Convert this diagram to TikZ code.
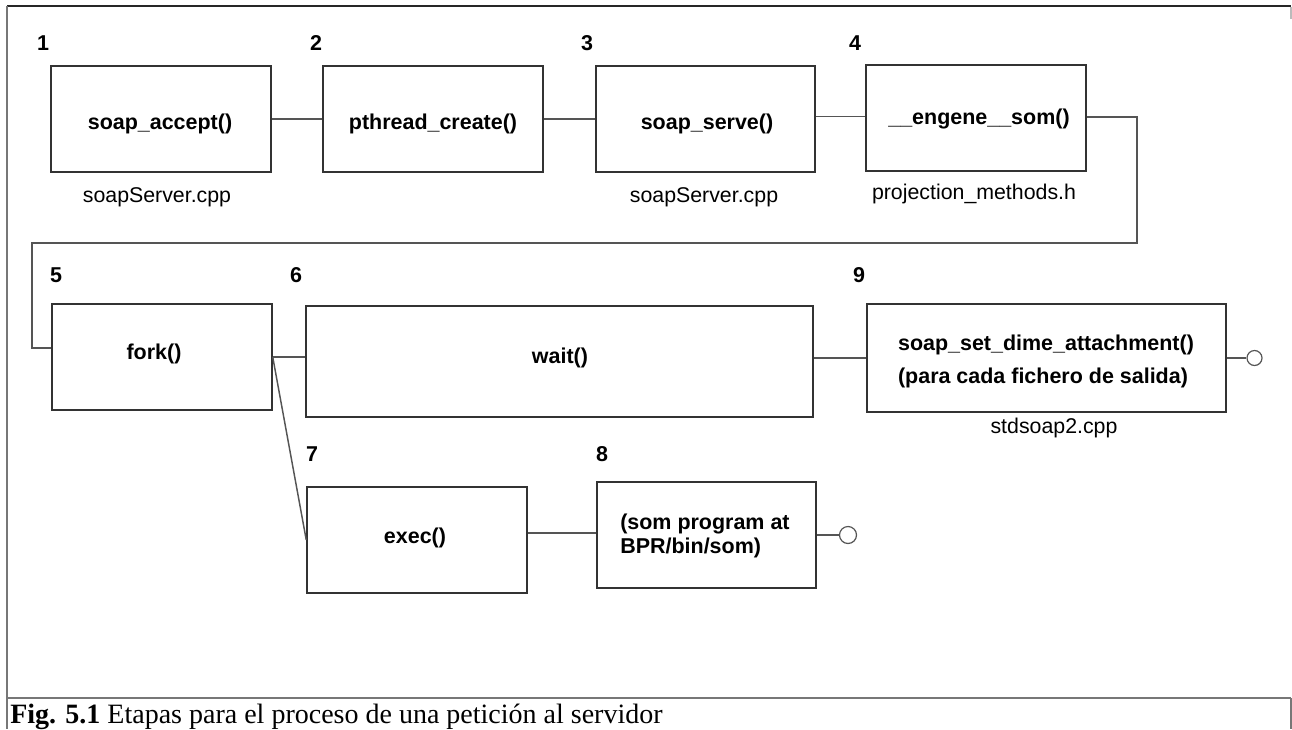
\documentclass[tikz,border=0pt]{standalone}
\usepackage{fontspec}
\setmainfont{Liberation Serif}
\newfontfamily\arialf{Liberation Sans}
\definecolor{boxc}{HTML}{333333}
\definecolor{connc}{HTML}{555555}
\definecolor{framec}{HTML}{777777}
\newcommand\boxfont{\arialf\bfseries\fontsize{16.1}{19}\selectfont}
\newcommand\filefont{\arialf\fontsize{16}{19}\selectfont}
\begin{document}
\begin{tikzpicture}[x=0.75pt,y=-0.75pt,
  box/.style={draw=boxc, line width=1.1pt, minimum width=165pt, minimum height=79.5pt, inner sep=0pt},
  btext/.style={font=\boxfont, inner sep=0pt, text height=0.72em, text depth=0.2em},
  conn/.style={draw=connc, line width=1.1pt},
  num/.style={font=\boxfont, inner sep=0pt, text height=0.72em, text depth=0pt},
  file/.style={font=\filefont, inner sep=0pt, text height=0.72em, text depth=0.2em},
  endc/.style={circle, draw=connc, line width=0.9pt, inner sep=0pt, fill=white},
  frame/.style={draw=framec, line width=1.1pt}
]
\useasboundingbox (0,0) rectangle (1292,729);
% frame
\draw[line width=1.2pt, draw=black!85] (7,6) -- (1291,6);
\draw[frame] (7,6) -- (7,729);
\draw[frame] (7,698) -- (1291,698);
\draw[frame] (1291,698) -- (1291,729);
\draw[draw=framec!50, line width=1pt] (1291,7) -- (1291,19);

% row 1 boxes
\node[box] (b1) at (161,119) {};
\node[box] (b2) at (433,119) {};
\node[box, minimum width=164.25pt] (b3) at (705.5,119) {};
\node[box] (b4) at (976,118) {};
\node[btext] (t1) at (160,126) {soap\_accept()};
\node[btext] (t2) at (433,126) {pthread\_create()};
\node[btext] (t3) at (707,126) {soap\_serve()};
\node[btext] (t4) at (979,121) {\_\_engene\_\_som()};

\node[num] (n1) at (43,46) {1};
\node[num] (n2) at (316,46) {2};
\node[num] (n3) at (587,46) {3};
\node[num] (n4) at (855,46) {4};

\node[file] (f1) at (157,199) {soapServer.cpp};
\node[file] (f3) at (704,199) {soapServer.cpp};
\node[file] (f4) at (974,196) {projection\_methods.h};

% row 2
\node[box] (b5) at (162,357) {};
\node[box, minimum width=380.25pt, minimum height=83.25pt] (b6) at (559.5,361.5) {};
\node[box, minimum width=269.25pt, minimum height=81pt] (b9) at (1046.5,358) {};
\node[btext] (t5) at (154,356) {fork()};
\node[btext] (t6) at (560,360) {wait()};
\node[btext] (t9a) at (1046,347) {soap\_set\_dime\_attachment()};
\node[btext] (t9b) at (1043,380) {(para cada fichero de salida)};

\node[num] (n5) at (56,278) {5};
\node[num] (n6) at (296,278) {6};
\node[num] (n9) at (859,278) {9};

\node[file] (f9) at (1054,430) {stdsoap2.cpp};

% row 3
\node[box] (b7) at (417,540) {};
\node[box, minimum width=164.25pt] (b8) at (706.5,535) {};
\node[btext] (t7) at (415,540) {exec()};
\node[btext, anchor=west] (t8a) at (620,526) {(som program at};
\node[btext, anchor=west] (t8b) at (620,550) {BPR/bin/som)};

\node[num] (n7) at (312,457) {7};
\node[num] (n8) at (602,457) {8};

\node[endc, minimum size=11.25pt] (o9) at (1254.5,358) {};
\node[endc, minimum size=12.75pt] (o8) at (848,535) {};

% connectors
\draw[conn] (b1.east) -- (b2.west);
\draw[conn] (b2.east) -- (b3.west);
\draw[conn] ([yshift=2pt]b3.east) -- ([yshift=2pt]b3.east -| b4.west);
\coordinate (r1) at (1137,243);
\coordinate (l1) at (32,243);
\draw[conn] ([yshift=0.75pt]b4.east) -| (r1) -- (l1) |- ([yshift=6.75pt]b5.west);
\draw[conn] (b5.east) -- (b5.east -| b6.west);
\draw[conn] (b5.east) -- (b7.west);
\draw[conn] (b9.west -| b6.east) -- (b9.west);
\draw[conn] (b9.east) -- (o9.west);
\draw[conn] ([yshift=1.5pt]b8.west -| b7.east) -- ([yshift=1.5pt]b8.west);
\draw[conn] (b8.east) -- (o8.west);

% caption
\node[anchor=base west, inner sep=0pt, font=\fontsize{21}{23}\selectfont] (cap) at (10,723)
  {\textbf{Fig. 5.1} Etapas para el proceso de una petición al servidor};
\end{tikzpicture}
\end{document}
